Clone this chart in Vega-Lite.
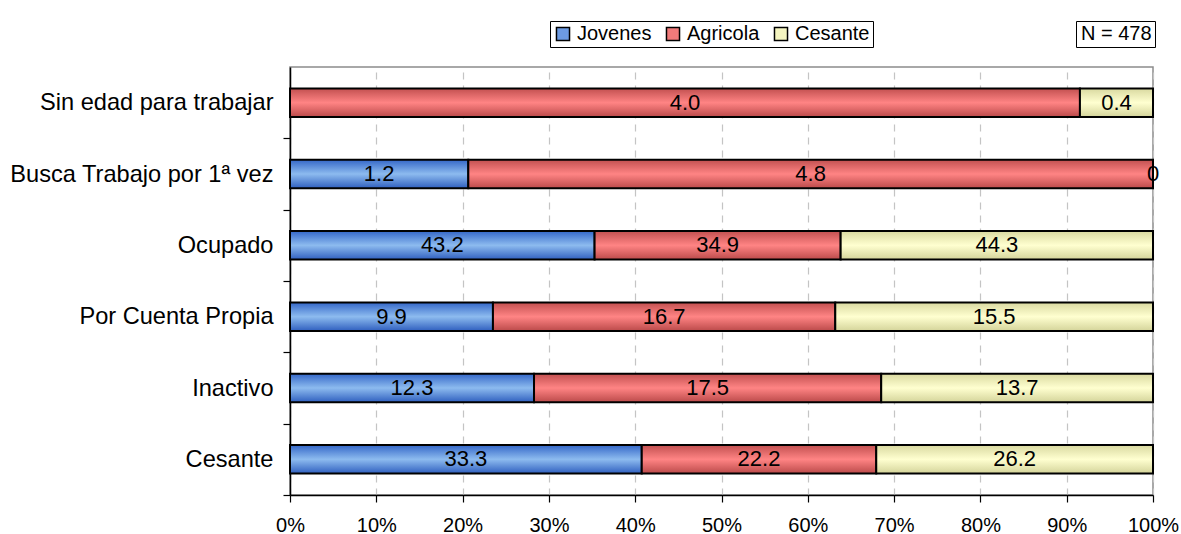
{
  "$schema": "https://vega.github.io/schema/vega-lite/v6.json",
  "width": 863,
  "height": 428,
  "autosize": "none",
  "padding": {"left": 290, "top": 67, "right": 28, "bottom": 39},
  "config": {
    "font": "Liberation Sans",
    "view": {"stroke": "#8c8c8c", "strokeWidth": 1.5},
    "axis": {"labelColor": "black", "tickColor": "black", "domainColor": "black", "domainWidth": 1.5, "tickWidth": 1.2, "title": null}
  },
  "datasets": {
    "ranks": [
      {"series": "Jovenes", "rank": 1},
      {"series": "Agricola", "rank": 2},
      {"series": "Cesante", "rank": 3}
    ]
  },
  "data": {
    "values": [
      {"cat": "Sin edad para trabajar", "series": "Agricola", "value": 4.0, "label": "4.0"},
      {"cat": "Sin edad para trabajar", "series": "Cesante", "value": 0.37, "label": "0.4"},
      {"cat": "Busca Trabajo por 1ª vez", "series": "Jovenes", "value": 1.25, "label": "1.2"},
      {"cat": "Busca Trabajo por 1ª vez", "series": "Agricola", "value": 4.8, "label": "4.8"},
      {"cat": "Busca Trabajo por 1ª vez", "series": "Cesante", "value": 0, "label": "0"},
      {"cat": "Ocupado", "series": "Jovenes", "value": 43.2, "label": "43.2"},
      {"cat": "Ocupado", "series": "Agricola", "value": 34.9, "label": "34.9"},
      {"cat": "Ocupado", "series": "Cesante", "value": 44.3, "label": "44.3"},
      {"cat": "Por Cuenta Propia", "series": "Jovenes", "value": 9.9, "label": "9.9"},
      {"cat": "Por Cuenta Propia", "series": "Agricola", "value": 16.7, "label": "16.7"},
      {"cat": "Por Cuenta Propia", "series": "Cesante", "value": 15.5, "label": "15.5"},
      {"cat": "Inactivo", "series": "Jovenes", "value": 12.3, "label": "12.3"},
      {"cat": "Inactivo", "series": "Agricola", "value": 17.5, "label": "17.5"},
      {"cat": "Inactivo", "series": "Cesante", "value": 13.7, "label": "13.7"},
      {"cat": "Cesante", "series": "Jovenes", "value": 33.3, "label": "33.3"},
      {"cat": "Cesante", "series": "Agricola", "value": 22.2, "label": "22.2"},
      {"cat": "Cesante", "series": "Cesante", "value": 26.2, "label": "26.2"}
    ]
  },
  "layer": [
    {
      "transform": [{"lookup": "series", "from": {"data": {"name": "ranks"}, "key": "series", "fields": ["rank"]}}],
      "mark": {"type": "bar", "strokeWidth": 0},
      "encoding": {
        "y": {
          "field": "cat", "type": "nominal",
          "sort": ["Sin edad para trabajar", "Busca Trabajo por 1ª vez", "Ocupado", "Por Cuenta Propia", "Inactivo", "Cesante"],
          "scale": {"paddingInner": 0.6, "paddingOuter": 0.3},
          "axis": {"labelFontSize": 23.6, "labelPadding": 10, "tickSize": 7, "bandPosition": 1, "tickOffset": 21.4, "labelOffset": -21.4, "grid": false, "labelLimit": 400}
        },
        "x": {
          "field": "value", "type": "quantitative", "stack": "normalize",
          "scale": {"domain": [0, 1]},
          "axis": {"values": [0, 0.1, 0.2, 0.3, 0.4, 0.5, 0.6, 0.7, 0.8, 0.9, 1], "format": ".0%", "labelFontSize": 20, "labelFlush": false, "labelPadding": 13, "tickSize": 7, "grid": true, "gridColor": "#c4c4c4", "gridDash": [7, 6], "gridWidth": 1.2}
        },
        "color": {
          "field": "series", "type": "nominal",
          "scale": {"domain": ["Jovenes", "Agricola", "Cesante"], "range": ["#6d9be3", "#f07a7a", "#f5f5c0"]},
          "legend": {"title": null, "orient": "none", "legendX": 260, "legendY": -46, "direction": "horizontal", "symbolType": "square", "symbolSize": 170, "symbolStrokeColor": "black", "symbolStrokeWidth": 1.5, "labelFontSize": 20, "labelColor": "black", "labelOffset": 4, "columnPadding": 11, "padding": 3, "strokeColor": "black"}
        },
        "order": {"field": "rank", "type": "quantitative"}
      }
    },
    {
      "transform": [{"lookup": "series", "from": {"data": {"name": "ranks"}, "key": "series", "fields": ["rank"]}}],
      "mark": {"type": "bar", "stroke": "black", "strokeWidth": 2},
      "encoding": {
        "y": {"field": "cat", "type": "nominal", "sort": ["Sin edad para trabajar", "Busca Trabajo por 1ª vez", "Ocupado", "Por Cuenta Propia", "Inactivo", "Cesante"]},
        "x": {"field": "value", "type": "quantitative", "stack": "normalize"},
        "detail": {"field": "series"},
        "order": {"field": "rank", "type": "quantitative"},
        "fill": {
          "condition": [
            {"test": "datum.series === 'Jovenes'", "value": {"gradient": "linear", "x1": 0, "y1": 0, "x2": 0, "y2": 1, "stops": [{"offset": 0, "color": "#3467c8"}, {"offset": 0.5, "color": "#8dbbef"}, {"offset": 1, "color": "#2f5fbf"}]}},
            {"test": "datum.series === 'Agricola'", "value": {"gradient": "linear", "x1": 0, "y1": 0, "x2": 0, "y2": 1, "stops": [{"offset": 0, "color": "#c25050"}, {"offset": 0.5, "color": "#ff8484"}, {"offset": 1, "color": "#bb4a4a"}]}}
          ],
          "value": {"gradient": "linear", "x1": 0, "y1": 0, "x2": 0, "y2": 1, "stops": [{"offset": 0, "color": "#d9d9a0"}, {"offset": 0.5, "color": "#ffffd0"}, {"offset": 1, "color": "#d4d49a"}]}
        }
      }
    },
    {
      "transform": [{"lookup": "series", "from": {"data": {"name": "ranks"}, "key": "series", "fields": ["rank"]}}],
      "mark": {"type": "text", "fontSize": 22, "color": "black", "baseline": "middle", "align": "center"},
      "encoding": {
        "y": {"field": "cat", "type": "nominal", "sort": ["Sin edad para trabajar", "Busca Trabajo por 1ª vez", "Ocupado", "Por Cuenta Propia", "Inactivo", "Cesante"]},
        "x": {"field": "value", "type": "quantitative", "stack": "normalize", "bandPosition": 0.5},
        "detail": {"field": "series"},
        "order": {"field": "rank", "type": "quantitative"},
        "text": {"field": "label"}
      }
    },
    {
      "data": {"values": [{"n": "N = 478"}]},
      "mark": {"type": "point", "opacity": 0},
      "encoding": {
        "shape": {
          "field": "n", "type": "nominal",
          "legend": {"title": null, "orient": "none", "legendX": 786, "legendY": -46, "symbolOpacity": 0, "symbolSize": 1, "symbolStrokeWidth": 0, "labelOffset": -18, "labelFontSize": 20, "labelColor": "black", "padding": 3, "strokeColor": "black"}
        }
      }
    }
  ]
}
